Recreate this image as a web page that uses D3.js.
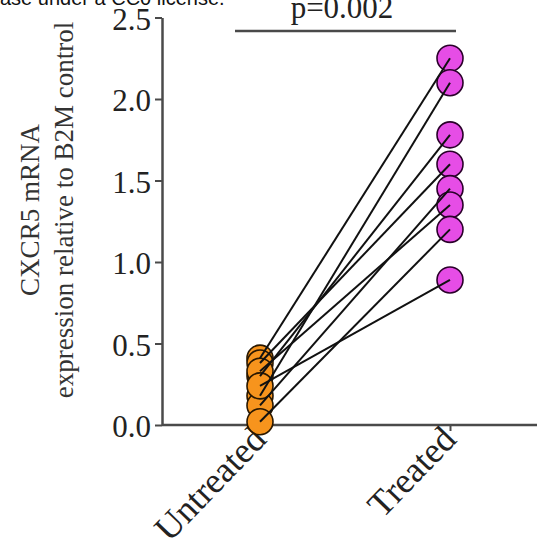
<!DOCTYPE html>
<html><head><meta charset="utf-8">
<script src="https://cdn.jsdelivr.net/npm/d3@7"></script>
<style>body{margin:0;background:#fff}svg{display:block}</style>
</head><body>
<script>
const groups = ["Untreated", "Treated"];
const untreated = [0.41, 0.18, 0.30, 0.38, 0.12, 0.33, 0.02, 0.24];
const treated   = [2.25, 2.10, 1.78, 1.60, 1.45, 1.35, 1.20, 0.89];
const yTicks = [0, 0.5, 1.0, 1.5, 2.0, 2.5];
const pLabel = "p=0.002";
const yLabel = ["CXCR5 mRNA", "expression relative to B2M control"];
const topNote = "ase under a CC0 license.";

const W = 537, H = 555;
const svg = d3.select("body").append("svg").attr("width", W).attr("height", H);
const serif = "'Liberation Serif','Times New Roman',serif";
const axisCol = "#4a4a4a";

const y = d3.scaleLinear().domain([0, 2.5]).range([425, 17.5]);
const x = d3.scalePoint().domain(groups).range([260, 450]);
const axX = 162;

// top clipped note
svg.append("text").attr("x", 0).attr("y", 5).attr("font-family", "'Liberation Sans',Arial,sans-serif")
  .attr("font-size", 20).attr("fill", "#111").text(topNote);

// y axis
const gy = svg.append("g").attr("transform", `translate(${axX},0)`)
  .call(d3.axisLeft(y).tickValues(yTicks).tickFormat(d3.format(".1f")).tickSize(7).tickSizeOuter(0).tickPadding(4));
gy.select(".domain").attr("stroke", axisCol).attr("stroke-width", 2.5);
gy.selectAll(".tick line").attr("stroke", axisCol).attr("stroke-width", 2);
gy.selectAll(".tick text").attr("font-family", serif).attr("font-size", 31).attr("fill", "#222").attr("dy", "0.38em");

// x axis
const gx = svg.append("g").attr("transform", `translate(0,${y(0)})`)
  .call(d3.axisBottom(x).tickSize(6).tickSizeOuter(0).tickFormat(""));
gx.select(".domain").remove();
gx.append("line").attr("x1", axX).attr("x2", W + 5).attr("y1", 0).attr("y2", 0)
  .attr("stroke", axisCol).attr("stroke-width", 2.5);
gx.selectAll(".tick line").attr("stroke", axisCol).attr("stroke-width", 2);
groups.forEach(g => {
  svg.append("text").attr("font-family", serif).attr("font-size", 36).attr("fill", "#222")
    .attr("text-anchor", "end")
    .attr("transform", `translate(${x(g) + 8},${y(0) + 16}) rotate(-46)`)
    .text(g);
});

// y label
const yl = svg.append("text").attr("font-family", serif).attr("font-size", 27).attr("fill", "#333")
  .attr("text-anchor", "middle").attr("transform", `translate(47,210) rotate(-90)`);
yl.append("tspan").attr("x", 0).attr("y", -8).text(yLabel[0]);
yl.append("tspan").attr("x", 0).attr("y", 26).text(yLabel[1]);

// significance bar
svg.append("line").attr("x1", 235).attr("x2", 456).attr("y1", 31).attr("y2", 31)
  .attr("stroke", axisCol).attr("stroke-width", 2.5);
svg.append("text").attr("x", 342).attr("y", 18).attr("text-anchor", "middle")
  .attr("font-family", serif).attr("font-size", 31).attr("fill", "#222").text(pLabel);

// points
const r = 13;
const pts = svg.append("g");
untreated.forEach(v => pts.append("circle").attr("cx", x("Untreated")).attr("cy", y(v)).attr("r", r)
  .attr("fill", "#F7941D").attr("stroke", "#2a1800").attr("stroke-width", 1.6));
treated.forEach(v => pts.append("circle").attr("cx", x("Treated")).attr("cy", y(v)).attr("r", r)
  .attr("fill", "#E64DE6").attr("stroke", "#2a002a").attr("stroke-width", 1.6));

// pair lines
const pairs = untreated.map((u, i) => [u, treated[i]]);
svg.append("g").selectAll("line").data(pairs).join("line")
  .attr("x1", x("Untreated")).attr("y1", d => y(d[0]))
  .attr("x2", x("Treated")).attr("y2", d => y(d[1]))
  .attr("stroke", "#111").attr("stroke-width", 2);
</script>
</body></html>
